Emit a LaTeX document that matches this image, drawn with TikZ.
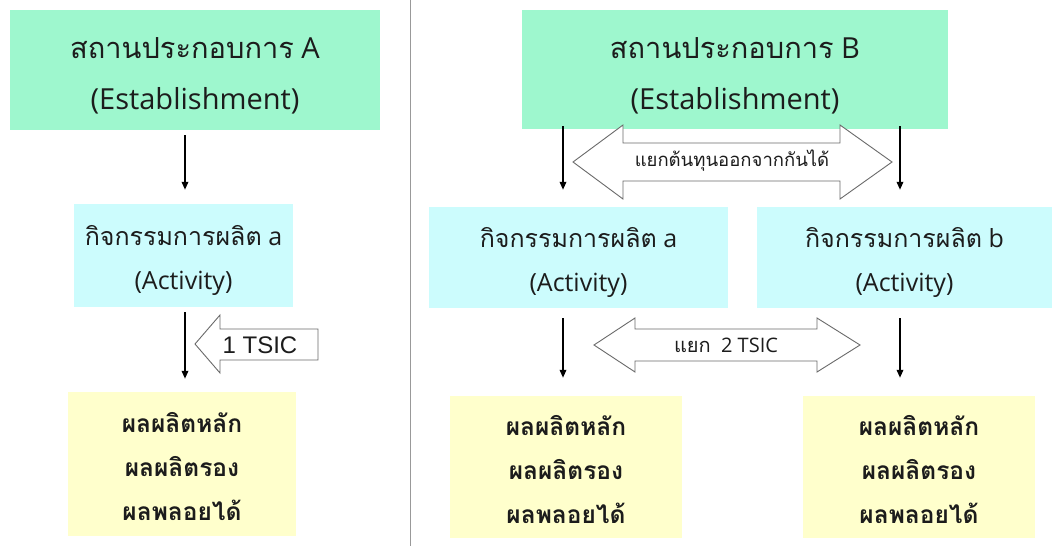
\documentclass[tikz,border=0pt]{standalone}
\usepackage{fontspec}
\usetikzlibrary{arrows.meta}
\setmainfont{Open Sans}
\newfontfamily\thai[Script=Thai]{Loma}
\newfontfamily\arialf{Liberation Sans}
\definecolor{estgreen}{HTML}{9EF7CE}
\definecolor{actcyan}{HTML}{CCFCFD}
\definecolor{prodyel}{HTML}{FFFFCC}
\definecolor{txt}{HTML}{1C1C1C}
\definecolor{blkline}{HTML}{6A6A6A}
\tikzset{
  est/.style={rectangle, fill=estgreen, inner sep=0pt},
  act/.style={rectangle, fill=actcyan, inner sep=0pt},
  prod/.style={rectangle, fill=prodyel, inner sep=0pt},
  esttext/.style={inner sep=0pt, align=center, text=txt,
    font=\fontsize{29}{51}\selectfont},
  acttext/.style={inner sep=0pt, align=center, text=txt,
    font=\fontsize{25}{44}\selectfont},
  prodtext/.style={inner sep=0pt, align=center, text=txt,
    font=\thai\bfseries\fontsize{24.5}{44}\selectfont},
  arr/.style={line width=1.8pt, draw=black, -{Triangle[length=8pt,width=6.5pt]}},
  blk/.style={draw=blkline, line width=0.9pt, fill=white, line join=miter},
  blktext/.style={inner sep=0pt, text=txt}
}
\begin{document}
\begin{tikzpicture}[x=1pt,y=-1pt]
\useasboundingbox[fill=white] (0,0) rectangle (1052,546);
% divider
\draw[draw=gray!80, line width=1.4pt] (410.5,0) -- (410.5,546);

% ---------- left panel ----------
\node[est, minimum width=370pt, minimum height=120pt] (A) at (195,70) {};
\node[esttext, yshift=-6pt] (Atx) at (A) {{\thai สถานประกอบการ} A\\(Establishment)};
\node[act, minimum width=219pt, minimum height=103pt] (actA) at (183.5,255.5) {};
\node[acttext, yshift=-5pt] (actAtx) at (actA) {{\thai กิจกรรมการผลิต} a\\(Activity)};
\node[prod, minimum width=228pt, minimum height=144pt] (prodA) at (182,464) {};
\node[prodtext, yshift=-3pt] (prodAtx) at (prodA) {ผลผลิตหลัก\\ผลผลิตรอง\\ผลพลอยได้};

\draw[arr] ([xshift=-10pt,yshift=-5pt]A.south) -- ([xshift=1.5pt,yshift=14pt]actA.north);
\draw[arr] ([xshift=1.5pt,yshift=-5pt]actA.south) -- ([xshift=3pt,yshift=13pt]prodA.north);

\draw[blk] (195,344) -- (220,315) -- (220,329) -- (318,329) -- (318,360)
  -- (220,360) -- (220,373) -- cycle;
\node[blktext, font=\arialf\fontsize{24}{24}\selectfont] (tsic1) at (260,345) {1 TSIC};

% ---------- right panel ----------
\node[est, minimum width=426pt, minimum height=119pt] (B) at (735,69.5) {};
\node[esttext, yshift=-6pt] (Btx) at (B) {{\thai สถานประกอบการ} B\\(Establishment)};
\node[act, minimum width=299pt, minimum height=101pt] (actLa) at (578.5,257.5) {};
\node[acttext, yshift=-5pt] (actLatx) at (actLa) {{\thai กิจกรรมการผลิต} a\\(Activity)};
\node[act, minimum width=295pt, minimum height=101pt] (actRb) at (904.5,257.5) {};
\node[acttext, yshift=-5pt] (actRbtx) at (actRb) {{\thai กิจกรรมการผลิต} b\\(Activity)};
\node[prod, minimum width=232pt, minimum height=142pt] (prodL) at (566,467) {};
\node[prodtext, yshift=-3pt] (prodLtx) at (prodL) {ผลผลิตหลัก\\ผลผลิตรอง\\ผลพลอยได้};
\node[prod, minimum width=232pt, minimum height=142pt] (prodR) at (919,467) {};
\node[prodtext, yshift=-3pt] (prodRtx) at (prodR) {ผลผลิตหลัก\\ผลผลิตรอง\\ผลพลอยได้};

\draw[arr] ([xshift=-172pt,yshift=3pt]B.south) -- ([xshift=-15.5pt,yshift=17pt]actLa.north);
\draw[arr] ([xshift=165pt,yshift=3pt]B.south) -- ([xshift=-4.5pt,yshift=17pt]actRb.north);
\draw[arr] ([xshift=-15.5pt,yshift=-10pt]actLa.south) -- ([xshift=-3pt,yshift=18pt]prodL.north);
\draw[arr] ([xshift=-4.5pt,yshift=-10pt]actRb.south) -- ([xshift=-19pt,yshift=18pt]prodR.north);

% double arrow 1
\draw[blk] (573,162) -- (623,125) -- (623,143) -- (840,143) -- (840,125) -- (892,162)
  -- (840,199) -- (840,181) -- (623,181) -- (623,199) -- cycle;
\node[blktext, font=\thai\fontsize{18.5}{18.5}\selectfont] (cost) at (732,161)
  {แยกต้นทุนออกจากกันได้};

% double arrow 2
\draw[blk] (594,345) -- (635,318) -- (635,329) -- (817,329) -- (817,318) -- (860,345)
  -- (817,372) -- (817,361) -- (635,361) -- (635,372) -- cycle;
\node[blktext, font=\fontsize{20}{20}\selectfont] (tsic2) at (726,345)
  {{\thai แยก}\ \ 2 TSIC};
\end{tikzpicture}
\end{document}
